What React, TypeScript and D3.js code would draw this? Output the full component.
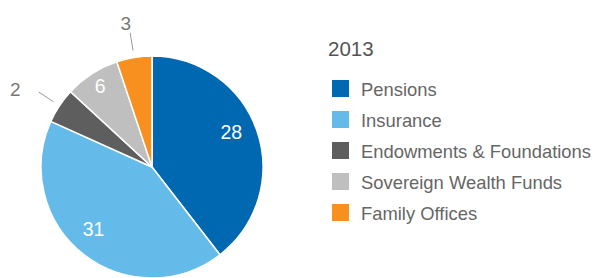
import React from "react";
import * as d3 from "d3";

const categories = ["Pensions", "Insurance", "Endowments & Foundations", "Sovereign Wealth Funds", "Family Offices"];
// slice shares
const shares = [27.7, 29.6, 3.6, 5.6, 3.6];
// numbers printed on the chart
const valueLabels = ["28", "31", "2", "6", "3"];
const colors = ["#0067b1", "#64bbea", "#5e5e5e", "#bfbfbf", "#f7901e"];
const outside = [false, false, true, false, true];
const legendTitle = "2013";

const W = 597;
const H = 278;
const cx = 152;
const cy = 167;
const R = 111;
const FONT = "'Liberation Sans', Arial, Helvetica, sans-serif";

export default function App() {
  const data = categories.map((c, i) => ({ c, v: shares[i], i }));
  const pie = d3.pie<any>().value((d) => d.v).sort(null);
  const arcs = pie(data);
  const arc = d3.arc<any>().innerRadius(0).outerRadius(R);
  const labelArc = d3.arc<any>().innerRadius(88).outerRadius(88);

  return (
    <svg width={W} height={H} style={{ position: "absolute", left: 0, top: 0 }} fontFamily={FONT}>
      <g transform={`translate(${cx},${cy})`}>
        {arcs.map((a, i) => (
          <path key={i} d={arc(a) as string} fill={colors[i]} stroke="#fff" strokeWidth={1.5} strokeLinejoin="round" />
        ))}
        {arcs.map((a, i) => {
          const mid = (a.startAngle + a.endAngle) / 2;
          const s = Math.sin(mid);
          const c = -Math.cos(mid);
          if (outside[i]) {
            const r1 = 118, r2 = 136, r3 = 150;
            return (
              <g key={"l" + i}>
                <line x1={s * r1} y1={c * r1} x2={s * r2} y2={c * r2} stroke="#999" strokeWidth={1} />
                <text x={s * r3 + s * 14} y={c * r3 + 5} textAnchor="middle" dominantBaseline="central" fontSize={19} fill="#777">
                  {valueLabels[i]}
                </text>
              </g>
            );
          }
          const [x, y] = labelArc.centroid(a);
          return (
            <text key={"l" + i} x={x - 4} y={y - 7} textAnchor="middle" dominantBaseline="central" fontSize={19.5} fill="#fff">
              {valueLabels[i]}
            </text>
          );
        })}
      </g>
      <text x={328} y={56} fontSize={20.5} fill="#555">{legendTitle}</text>
      {categories.map((c, i) => (
        <g key={"lg" + i} transform={`translate(332,${89 + i * 31})`}>
          <rect x={0} y={-9} width={17} height={17} fill={colors[i]} />
          <text x={29} y={0} dominantBaseline="central" fontSize={18.4} fill="#666">{c}</text>
        </g>
      ))}
    </svg>
  );
}
